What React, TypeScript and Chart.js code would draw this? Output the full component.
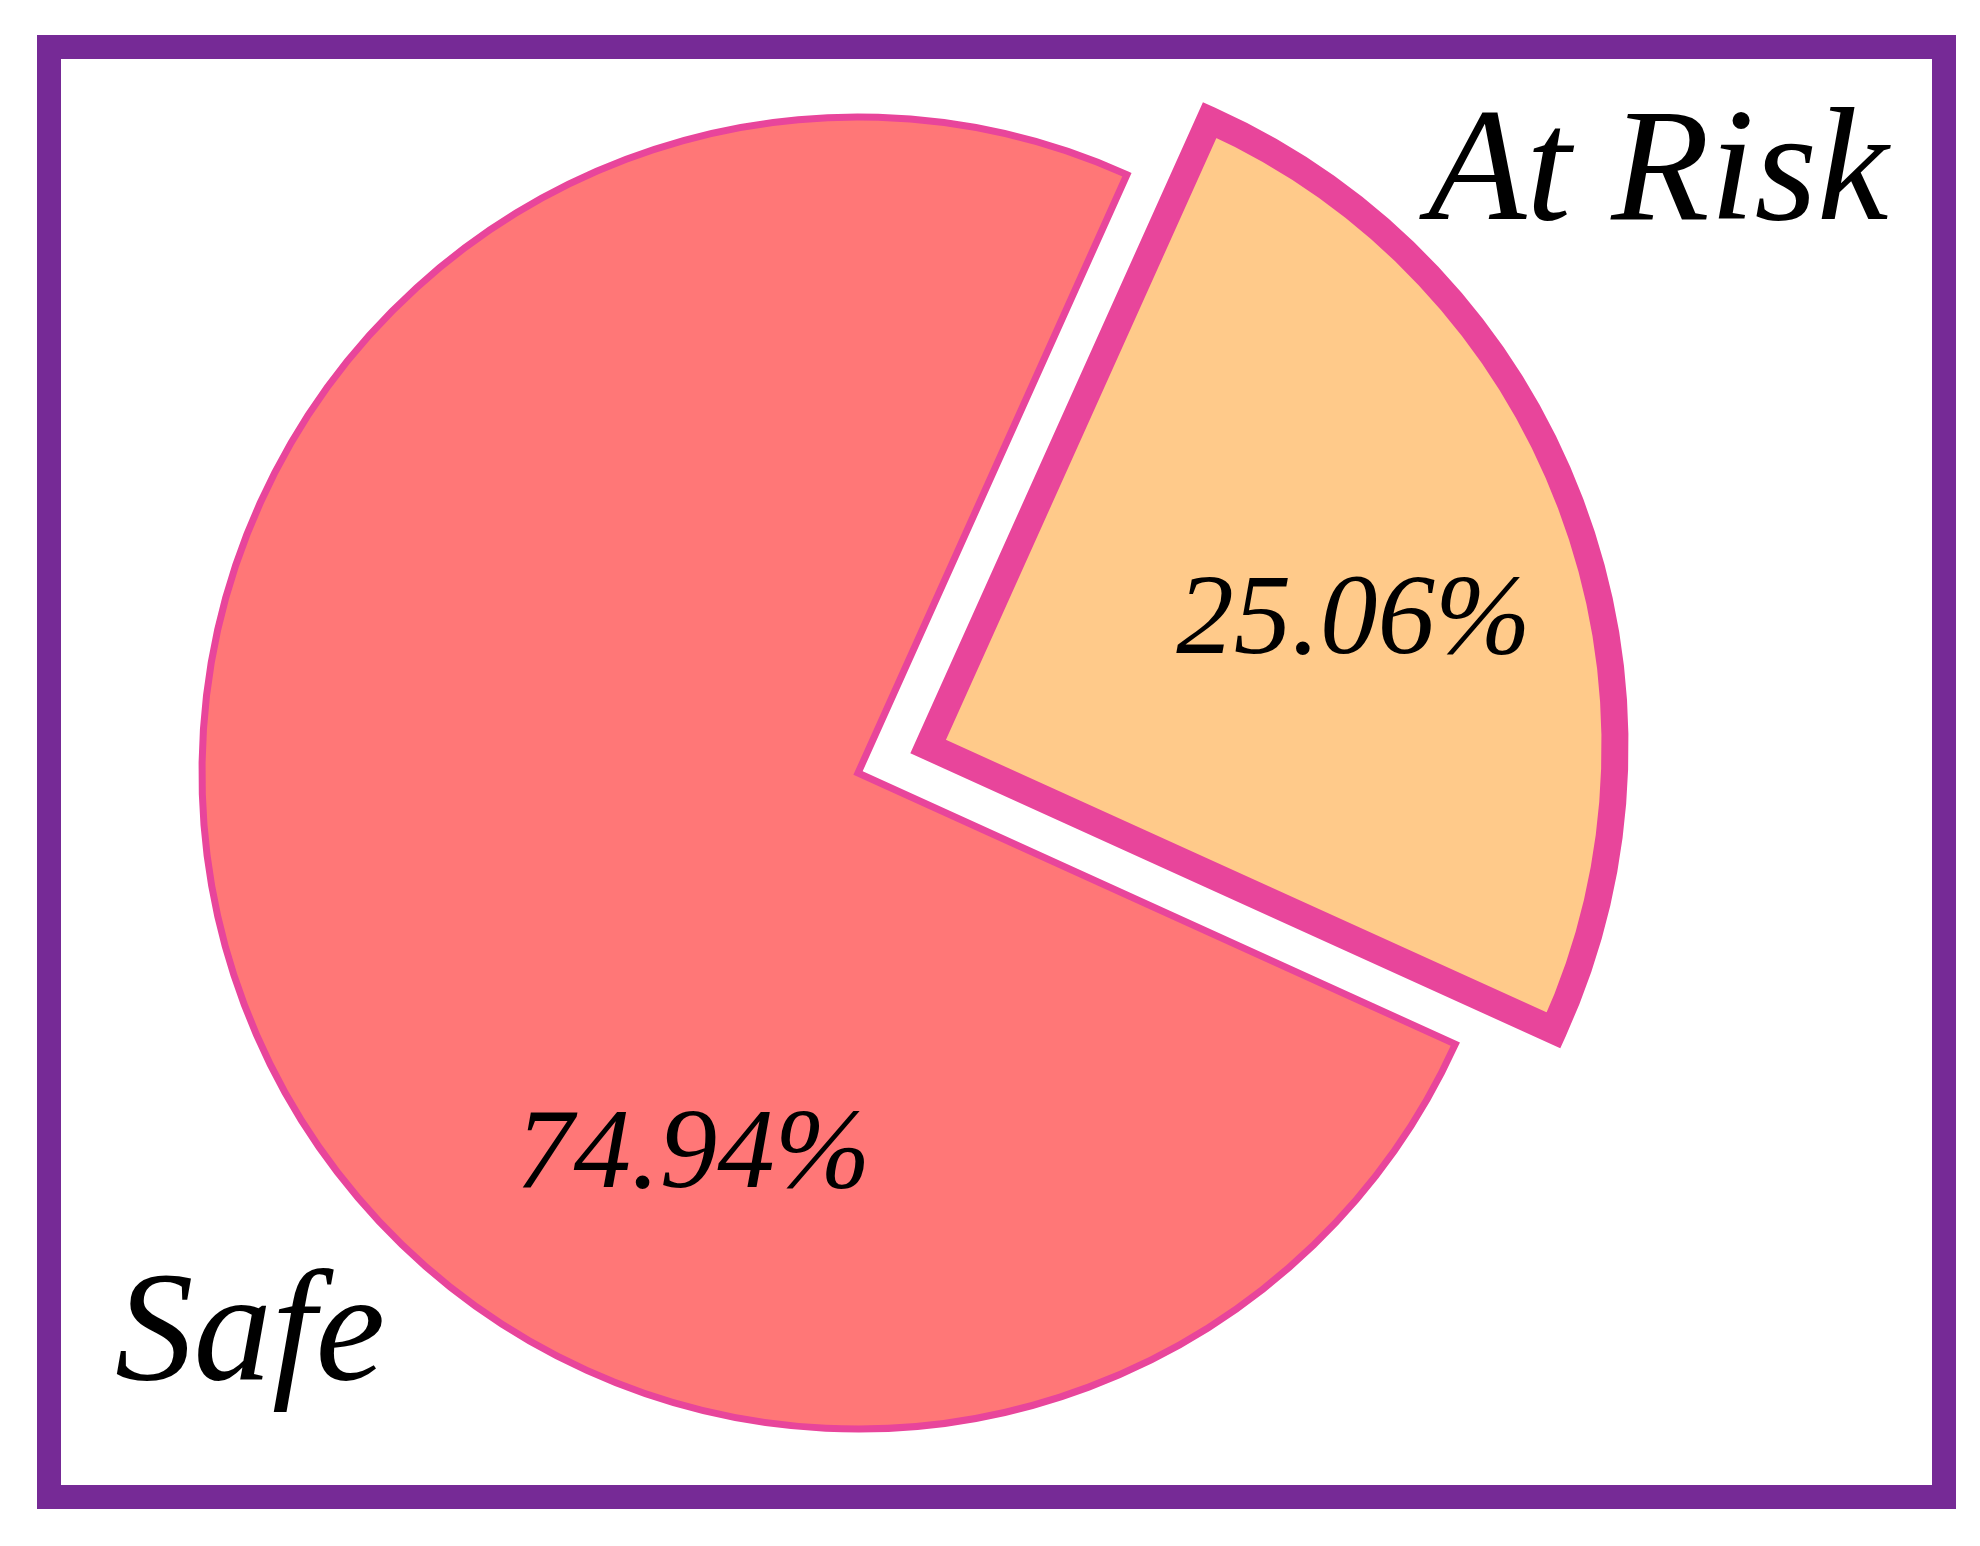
import React, { useEffect, useRef } from 'react';
import { Chart, registerables } from 'chart.js';

Chart.register(...registerables);

// ---- data ----
const categories = ['At Risk', 'Safe'];
const shares = [25.06, 74.94];
const percentLabels = ['25.06%', '74.94%'];

// ---- styles ----
const fillColors = ['#FFCA8A', '#FF7777'];
const sliceBorderColor = '#E8459B';
const sliceBorderWidths = [27, 7];
const sliceOffsets = [300, 0]; // Chart.js moves a slice by offset/4 along its bisector
const sliceRadiusScale = [1.047, 1]; // the exploded slice is drawn a little larger
const frameColor = '#762A96';
const FONT_FAMILY = '"Liberation Serif"';

// label layout (degrees clockwise from top, distance in px from pie centre)
const pctAngles = [73.1, 203.2];
const pctDistances = [518, 418];

export default function App() {
  const ref = useRef<HTMLCanvasElement | null>(null);

  useEffect(() => {
    const canvas = ref.current;
    if (!canvas) return;
    let alive = true;

    const radiusPlugin = {
      id: 'radiusPlugin',
      afterDatasetUpdate(chart: any, args: any) {
        const meta = args.meta;
        meta.data.forEach((arc: any, i: number) => {
          arc.outerRadius = arc.outerRadius * sliceRadiusScale[i];
        });
      },
    };

    const textPlugin = {
      id: 'textPlugin',
      afterDatasetsDraw(chart: any) {
        const ctx = chart.ctx as CanvasRenderingContext2D;
        const meta = chart.getDatasetMeta(0);
        ctx.save();
        ctx.fillStyle = '#000000';
        ctx.font = `italic 115px ${FONT_FAMILY}`;
        ctx.textAlign = 'center';
        ctx.textBaseline = 'middle';
        meta.data.forEach((arc: any, i: number) => {
          const a = (pctAngles[i] * Math.PI) / 180;
          const x = arc.x + Math.sin(a) * pctDistances[i];
          const y = arc.y - Math.cos(a) * pctDistances[i];
          ctx.fillText(percentLabels[i], x, y);
        });
        ctx.textAlign = 'left';
        ctx.textBaseline = 'alphabetic';
        ctx.font = `italic 161px ${FONT_FAMILY}`;
        ctx.fillText(categories[0], 1428, 219);
        ctx.font = `italic 157px ${FONT_FAMILY}`;
        ctx.fillText(categories[1], 115, 1379);
        ctx.restore();
      },
    };

    const chart = new Chart(canvas, {
      type: 'pie',
      data: {
        labels: categories,
        datasets: [
          {
            data: shares,
            backgroundColor: fillColors,
            borderColor: sliceBorderColor,
            borderWidth: sliceBorderWidths,
            offset: sliceOffsets,
            borderJoinStyle: 'miter',
            borderAlign: 'center',
          } as any,
        ],
      },
      options: {
        animation: false,
        responsive: false,
        events: [],
        rotation: 24.2,
        radius: 656,
        layout: { padding: { left: 0, right: 264, top: 0, bottom: 0 } },
        plugins: {
          legend: { display: false },
          tooltip: { enabled: false },
        },
      } as any,
      plugins: [radiusPlugin, textPlugin],
    });

    const redraw = () => {
      if (alive) chart.update('none');
    };
    const fonts = (document as any).fonts;
    if (fonts && fonts.load) {
      Promise.all([
        fonts.load(`italic 115px ${FONT_FAMILY}`, '25.06%'),
        fonts.load(`italic 160px ${FONT_FAMILY}`, 'At Risk Safe'),
      ])
        .then(redraw)
        .catch(() => {});
    }

    return () => {
      alive = false;
      chart.destroy();
    };
  }, []);

  return (
    <div
      style={{
        position: 'absolute',
        left: 0,
        top: 0,
        width: 1980,
        height: 1546,
        background: '#ffffff',
      }}
    >
      <div
        style={{
          position: 'absolute',
          left: 37,
          top: 35,
          width: 1919,
          height: 1474,
          boxSizing: 'border-box',
          border: `24px solid ${frameColor}`,
          background: '#ffffff',
        }}
      />
      <canvas
        ref={ref}
        width={1980}
        height={1546}
        style={{ position: 'absolute', left: 0, top: 0, width: 1980, height: 1546 }}
      />
    </div>
  );
}
